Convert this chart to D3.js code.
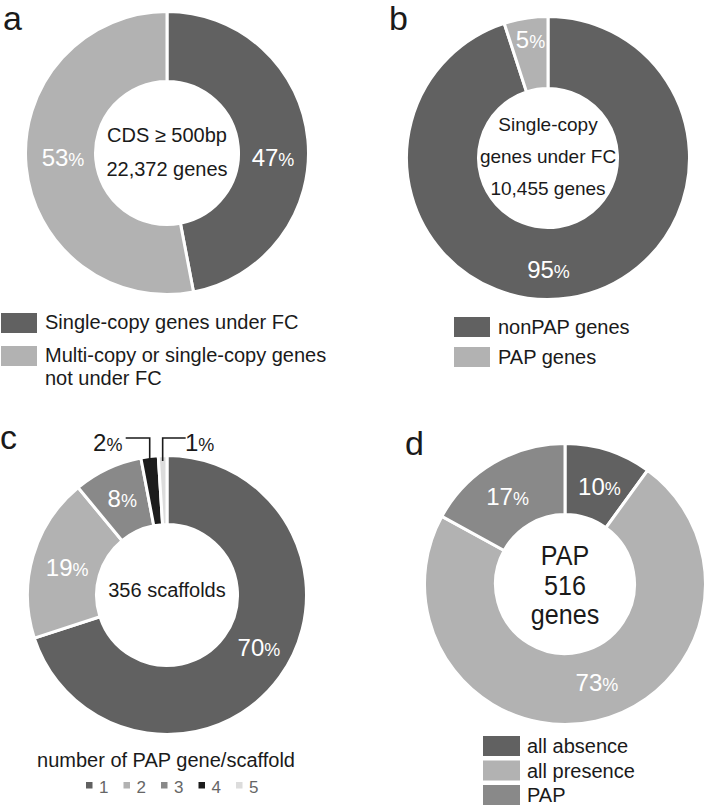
<!DOCTYPE html>
<html><head><meta charset="utf-8">
<script src="https://cdn.jsdelivr.net/npm/d3@7"></script>
<style>
html,body{margin:0;padding:0;background:#fff;}
svg{display:block;font-family:"Liberation Sans",Arial,sans-serif;}
</style></head>
<body>
<svg id="chart" width="706" height="806"></svg>
<script>
// ---------- data ----------
const panelLetters = ["a", "b", "c", "d"];

const aCategories = ["Single-copy genes under FC", "Multi-copy or single-copy genes not under FC"];
const aValues = [47, 53];
const aCenterText = ["CDS \u2265 500bp", "22,372 genes"];

const bCategories = ["nonPAP genes", "PAP genes"];
const bValues = [95, 5];
const bCenterText = ["Single-copy", "genes under FC", "10,455 genes"];

const cCategories = ["1", "2", "3", "4", "5"];
const cValues = [70, 19, 8, 2, 1];
const cCenterText = ["356 scaffolds"];
const cLegendTitle = "number of PAP gene/scaffold";

const dCategories = ["all absence", "all presence", "PAP"];
const dValues = [10, 73, 17];
const dCenterText = ["PAP", "516", "genes"];

// ---------- style ----------
const DARK = "#616161", LIGHT = "#b2b2b2", MID = "#898989", BLACK = "#1c1c1c", PALE = "#dcdcdc";
const svg = d3.select("#chart");

function donut(cfg) {
  const g = svg.append("g").attr("transform", `translate(${cfg.cx},${cfg.cy})`);
  const pie = d3.pie().sort(null).value(d => d.v);
  const data = pie(cfg.values.map((v, i) => ({v, cat: cfg.categories[i], i})));
  const arc = d3.arc().innerRadius(cfg.r - 1.5).outerRadius(cfg.R + 1.5);
  const mid = (cfg.r + cfg.R) / 2;
  const labelArc = d3.arc().innerRadius(mid).outerRadius(mid);
  const color = d3.scaleOrdinal().domain(cfg.categories).range(cfg.colors);
  g.selectAll("path.slice").data(data).join("path")
    .attr("class", "slice")
    .attr("d", arc)
    .attr("fill", d => color(d.data.cat))
    .attr("stroke", "#fff").attr("stroke-width", 3).attr("stroke-linejoin", "miter");

  // labels
  data.forEach((d, i) => {
    const nudge = cfg.nudges[i];
    if (nudge === null) return;
    let [x, y] = labelArc.centroid(d);
    let fill = "#fff";
    if (nudge.outside) {
      // leader line from slice outer edge
      const a = (d.startAngle + d.endAngle) / 2;
      const px = Math.sin(a) * cfg.R, py = -Math.cos(a) * cfg.R;
      const ly = -cfg.R + nudge.ly;
      const lx = px + nudge.lx;
      g.append("path")
        .attr("d", `M${px},${py + 4}L${px},${ly}L${lx},${ly}`)
        .attr("fill", "none").attr("stroke", "#1a1a1a").attr("stroke-width", 1.6);
      x = lx + nudge.tx; y = ly + 5;
      fill = "#1a1a1a";
    } else {
      x += nudge.dx; y += nudge.dy;
    }
    const t = g.append("text").attr("x", x).attr("y", y + 8)
      .attr("text-anchor", "middle").attr("fill", fill);
    t.append("tspan").attr("font-size", 24).text(d.data.v);
    t.append("tspan").attr("font-size", 18).text("%");
  });

  // center text
  cfg.center.forEach((s, i) => {
    g.append("text")
      .attr("transform", `translate(0,${cfg.centerY[i]}) scale(${cfg.centerScale || 1},1)`)
      .attr("text-anchor", "middle").attr("font-size", cfg.centerSize)
      .attr("fill", "#1a1a1a").text(s);
  });
  return {g, color};
}

// panel letters
const letterPos = [[3, 30], [389, 30], [0, 449], [405, 455]];
panelLetters.forEach((l, i) => {
  svg.append("text").attr("x", letterPos[i][0]).attr("y", letterPos[i][1])
    .attr("font-size", 34).attr("fill", "#1a1a1a").text(l);
});

// ---- panel a ----
const A = donut({
  cx: 167, cy: 153, R: 140, r: 73,
  categories: aCategories, values: aValues, colors: [DARK, LIGHT],
  nudges: [{dx: 0, dy: 15}, {dx: 2, dy: -5}],
  center: aCenterText, centerY: [-11, 23], centerSize: 20
});
// legend a
{
  const lg = svg.append("g");
  const rows = [{c: aCategories[0], lines: ["Single-copy genes under FC"], y: 313},
                {c: aCategories[1], lines: ["Multi-copy or single-copy genes", "not under FC"], y: 346}];
  rows.forEach(r => {
    lg.append("rect").attr("x", 1).attr("y", r.y).attr("width", 36).attr("height", 20).attr("fill", A.color(r.c));
    r.lines.forEach((s, k) => lg.append("text").attr("x", 45).attr("y", r.y + 16 + k * 23)
      .attr("font-size", 20).attr("fill", "#1a1a1a").text(s));
  });
}

// ---- panel b ----
const B = donut({
  cx: 548, cy: 158, R: 140, r: 71,
  categories: bCategories, values: bValues, colors: [DARK, LIGHT],
  nudges: [{dx: -16, dy: 8}, {dx: -1, dy: -14}],
  center: bCenterText, centerY: [-27, 5, 37], centerSize: 19
});
{
  const lg = svg.append("g");
  bCategories.forEach((c, i) => {
    const y = 317 + i * 30;
    lg.append("rect").attr("x", 454).attr("y", y).attr("width", 36).attr("height", 20).attr("fill", B.color(c));
    lg.append("text").attr("x", 498).attr("y", y + 17).attr("font-size", 20).attr("fill", "#1a1a1a").text(c);
  });
}

// ---- panel c ----
const C = donut({
  cx: 167, cy: 595, R: 138, r: 72,
  categories: cCategories, values: cValues, colors: [DARK, LIGHT, MID, BLACK, PALE],
  nudges: [{dx: 7, dy: -9}, {dx: 1, dy: 2}, {dx: 0, dy: -1},
           {outside: true, ly: -19, lx: -24, tx: -18},
           {outside: true, ly: -19, lx: 23, tx: 14}],
  center: cCenterText, centerY: [2], centerSize: 20
});
{
  const lg = svg.append("g");
  lg.append("text").attr("x", 166).attr("y", 767).attr("text-anchor", "middle")
    .attr("font-size", 20).attr("fill", "#1a1a1a").text(cLegendTitle);
  cCategories.forEach((c, i) => {
    const x = 86 + i * 37.5;
    lg.append("rect").attr("x", x).attr("y", 782).attr("width", 6.5).attr("height", 6.5).attr("fill", C.color(c));
    lg.append("text").attr("x", x + 13).attr("y", 793).attr("font-size", 17).attr("fill", "#666").text(c);
  });
}

// ---- panel d ----
const D = donut({
  cx: 565, cy: 584, R: 139, r: 71,
  categories: dCategories, values: dValues, colors: [DARK, LIGHT, MID],
  nudges: [{dx: 2, dy: 3}, {dx: 9, dy: -3}, {dx: -4, dy: 3}],
  center: dCenterText, centerY: [-19, 11, 40], centerSize: 27, centerScale: 0.93
});
{
  const lg = svg.append("g");
  dCategories.forEach((c, i) => {
    const y = 736 + i * 24.5;
    lg.append("rect").attr("x", 483).attr("y", y).attr("width", 37).attr("height", 20).attr("fill", D.color(c));
    lg.append("text").attr("x", 527).attr("y", y + 17).attr("font-size", 20).attr("fill", "#1a1a1a").text(c);
  });
}
</script>
</body></html>
